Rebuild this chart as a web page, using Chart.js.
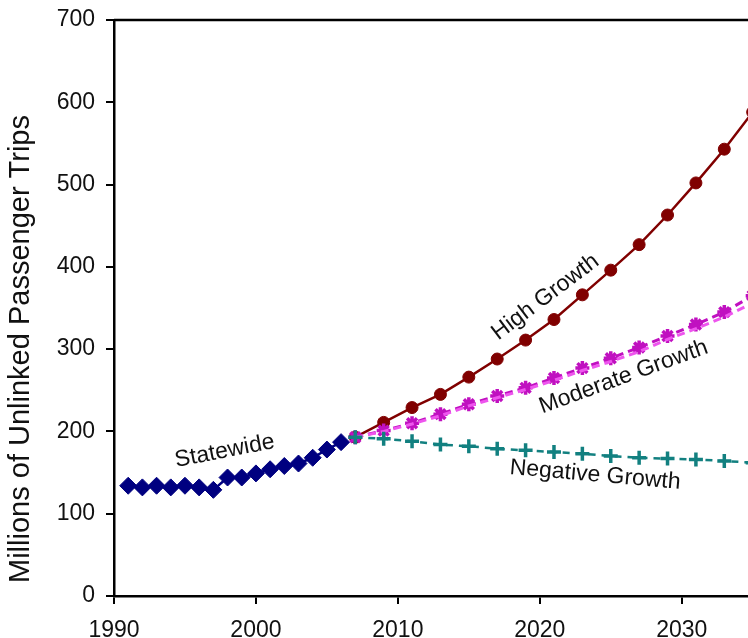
<!DOCTYPE html>
<html>
<head>
<meta charset="utf-8">
<script src="https://cdn.jsdelivr.net/npm/chart.js@4"></script>
<style>
  html, body { margin: 0; padding: 0; background: #fff; }
  #wrap { width: 748px; height: 638px; }
</style>
</head>
<body>
<div id="wrap"><canvas id="chart" width="748" height="638"></canvas></div>
<script>
const histYears = [1991, 1992, 1993, 1994, 1995, 1996, 1997, 1998, 1999, 2000, 2001, 2002, 2003, 2004, 2005, 2006];
const statewide = [134, 132, 134, 132, 134, 132, 129, 144, 144, 149, 154, 158, 161, 168, 178, 187];

const projYears = [2007, 2009, 2011, 2013, 2015, 2017, 2019, 2021, 2023, 2025, 2027, 2029, 2031, 2033, 2035];
const highGrowth = [193, 211, 229, 245, 266, 288, 311, 336, 366, 396, 427, 463, 502, 543, 588];
const moderateGrowth = [193, 201, 210, 221, 233, 243, 253, 265, 277, 289, 302, 316, 330, 345, 365];
const moderateAlt = [193, 200, 209, 219, 231, 241, 251, 262, 274, 285, 297, 312, 325, 339, 356];
const negativeGrowth = [193, 191, 188, 184, 182, 179, 177, 175, 173, 170, 168, 167, 166, 164, 162];

const xTicks = [1990, 2000, 2010, 2020, 2030];
const yTicks = [0, 100, 200, 300, 400, 500, 600, 700];

const curveLabels = [
  { text: "Statewide", x: 1997.8, y: 176, angle: -11 },
  { text: "High Growth", x: 2020.4, y: 363, angle: -37 },
  { text: "Moderate Growth", x: 2025.9, y: 266, angle: -20 },
  { text: "Negative Growth", x: 2023.9, y: 147, angle: 5 },
];

const pts = (xs, ys) => xs.map((x, i) => ({ x: x, y: ys[i] }));
const FONT = "'Liberation Sans', Arial, sans-serif";

const extras = {
  id: "extras",
  afterDraw(chart) {
    const ctx = chart.ctx;
    const area = chart.chartArea;
    const xs = chart.scales.x;
    const ys = chart.scales.y;
    ctx.save();
    // frame top line
    ctx.strokeStyle = "#000";
    ctx.lineWidth = 2.5;
    ctx.beginPath();
    ctx.moveTo(area.left, area.top);
    ctx.lineTo(area.right, area.top);
    ctx.stroke();

    ctx.fillStyle = "#111";
    ctx.font = "23px " + FONT;
    ctx.textAlign = "center";
    ctx.textBaseline = "middle";
    curveLabels.forEach((l) => {
      ctx.save();
      ctx.translate(xs.getPixelForValue(l.x), ys.getPixelForValue(l.y));
      ctx.rotate((l.angle * Math.PI) / 180);
      ctx.fillText(l.text, 0, 0);
      ctx.restore();
    });

    // y axis title
    ctx.save();
    ctx.font = "29px " + FONT;
    ctx.translate(21, 349);
    ctx.rotate(-Math.PI / 2);
    ctx.fillText("Millions of Unlinked Passenger Trips", 0, 0);
    ctx.restore();
    ctx.restore();
  },
};

new Chart(document.getElementById("chart"), {
  type: "line",
  data: {
    datasets: [
      {
        label: "Negative Growth",
        data: pts(projYears, negativeGrowth),
        borderColor: "#128080",
        backgroundColor: "#128080",
        borderWidth: 2.5,
        borderDash: [7, 6],
        pointStyle: "cross",
        pointRadius: 7,
        pointBorderWidth: 3.5,
      },
      {
        label: "Moderate Alt",
        data: pts(projYears, moderateAlt),
        borderColor: "#ee55ee",
        backgroundColor: "#ee55ee",
        borderWidth: 3,
        borderDash: [8, 5],
        pointRadius: 0,
      },
      {
        label: "Moderate Growth",
        data: pts(projYears, moderateGrowth),
        borderColor: "#c010c0",
        backgroundColor: "#c010c0",
        borderWidth: 3,
        borderDash: [8, 5],
        pointStyle: "star",
        pointRadius: 7,
        pointBorderWidth: 3.5,
      },
      {
        label: "High Growth",
        data: pts(projYears, highGrowth),
        borderColor: "#800000",
        backgroundColor: "#800000",
        borderWidth: 2.5,
        pointStyle: "circle",
        pointRadius: 6,
        pointBorderWidth: 1,
      },
      {
        label: "Statewide",
        data: pts(histYears, statewide),
        borderColor: "#000080",
        backgroundColor: "#000080",
        borderWidth: 2.5,
        pointStyle: "rectRot",
        pointRadius: 8.5,
        pointBorderWidth: 1,
      },
    ],
  },
  options: {
    responsive: false,
    animation: false,
    layout: { autoPadding: false, padding: { top: 20, right: 0, left: 0, bottom: 0 } },
    plugins: { legend: { display: false }, tooltip: { enabled: false } },
    elements: { line: { tension: 0 } },
    scales: {
      x: {
        type: "linear",
        min: 1990,
        max: 2034.67,
        afterBuildTicks: (s) => { s.ticks = xTicks.map((v) => ({ value: v })); },
        afterFit: (s) => { s.height = 42; s.paddingLeft = 0; s.paddingRight = 0; },
        grid: { drawOnChartArea: false, drawTicks: true, tickLength: 8, color: "#000", lineWidth: 2 },
        border: { color: "#000", width: 2.5 },
        ticks: {
          color: "#111",
          font: { family: FONT, size: 23 },
          padding: 13,
          maxRotation: 0,
          callback: (v) => String(v),
        },
      },
      y: {
        min: 0,
        max: 700,
        afterBuildTicks: (s) => { s.ticks = yTicks.map((v) => ({ value: v })); },
        afterFit: (s) => { s.width = 114; s.paddingTop = 0; s.paddingBottom = 0; },
        grid: { drawOnChartArea: false, drawTicks: true, tickLength: 8, color: "#000", lineWidth: 2 },
        border: { color: "#000", width: 2.5 },
        ticks: { color: "#111", font: { family: FONT, size: 23 }, padding: 11 },
      },
    },
  },
  plugins: [extras],
});
</script>
</body>
</html>
